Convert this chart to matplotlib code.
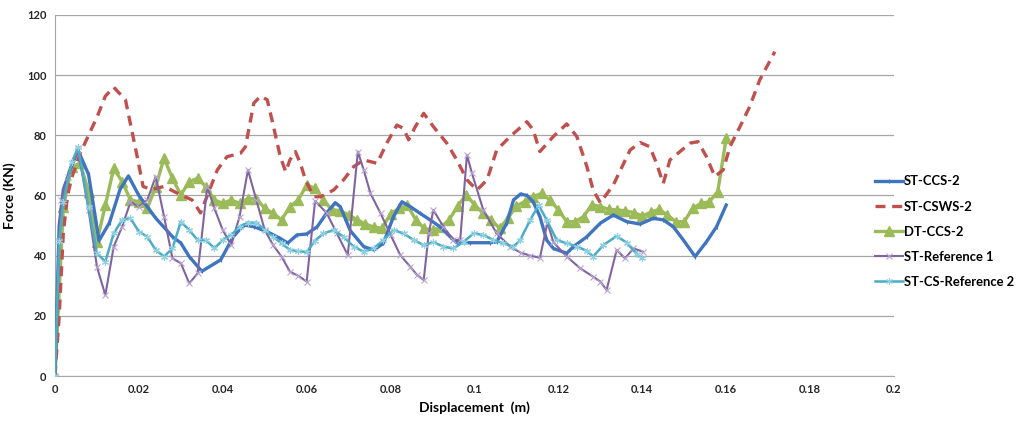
import matplotlib.pyplot as plt

plt.rcParams['font.family'] = ['Lato', 'DejaVu Sans']

# ST-CCS-2
ccs_x = [0, 0.001, 0.002, 0.004, 0.0055, 0.008, 0.0105, 0.013, 0.0155, 0.0175, 0.02, 0.024, 0.028,
         0.030, 0.032, 0.035, 0.0395, 0.0425, 0.045, 0.0475, 0.0505, 0.0535, 0.0555, 0.0577, 0.060,
         0.0625, 0.065, 0.0668, 0.068, 0.0704, 0.0736, 0.076, 0.0783, 0.0807, 0.0827, 0.0847, 0.087,
         0.0894, 0.0918, 0.0942, 0.0958, 0.099, 0.1037, 0.1053, 0.1077, 0.1093, 0.111, 0.1125, 0.114,
         0.1156, 0.1172, 0.1188, 0.122, 0.1236, 0.1268, 0.130, 0.1331, 0.1363, 0.1395, 0.1426, 0.145,
         0.1474, 0.1498, 0.1526, 0.1553, 0.1577, 0.160]
ccs_y = [0, 50, 62, 70, 75, 67, 45, 51, 62, 66.5, 60, 52.5, 46.3,
         44.2, 39.7, 34.8, 38.6, 46.3, 50.2, 49.6, 48, 45.9, 44.2, 46.9, 47.2,
         49.6, 54.6, 57.6, 56.3, 48.3, 43, 41.9, 44.1, 53, 57.9, 56.3, 54.1,
         51.9, 49.6, 46.3, 44.3, 44.3, 44.3, 44.6, 50.8, 58.5, 60.5, 60, 57.9,
         53, 45.2, 42.4, 40.8, 43, 46.3, 50.8, 53.5, 51.3, 50.5, 52.4, 51.9,
         49.6, 45.2, 39.7, 44.6, 49.6, 56.8]

# ST-CSWS-2
csws_x = [0, 0.001, 0.002, 0.003, 0.004, 0.006, 0.008, 0.010, 0.012, 0.014, 0.0168, 0.0196, 0.021,
          0.023, 0.026, 0.030, 0.0327, 0.0347, 0.0387, 0.041, 0.0442, 0.0454, 0.0474, 0.049, 0.0506,
          0.0521, 0.0537, 0.055, 0.056, 0.0573, 0.0585, 0.0597, 0.0617, 0.0633, 0.0664, 0.0688, 0.0712,
          0.0736, 0.0768, 0.0791, 0.0815, 0.0831, 0.0843, 0.0859, 0.0879, 0.0902, 0.0934, 0.0958,
          0.0982, 0.1006, 0.103, 0.1053, 0.1085, 0.1125, 0.114, 0.1156, 0.1188, 0.122, 0.1244, 0.1268,
          0.1283, 0.130, 0.1331, 0.1371, 0.1395, 0.1418, 0.1434, 0.145, 0.1466, 0.149, 0.1514, 0.1533,
          0.1553, 0.1573, 0.1593, 0.1609, 0.1633, 0.1656, 0.168, 0.1716]
csws_y = [0, 20, 48, 60, 66, 74, 80, 86, 93, 96, 91.8, 72.9, 63,
          62, 63, 60.2, 58.5, 54.2, 68.5, 72.9, 74, 76.2, 90.7, 93, 91.8,
          82.9, 72.9, 67.9, 71.8, 74.6, 70.7, 65.2, 59.6, 59.6, 61.8, 65.2, 69.6,
          71.8, 70.7, 77.4, 83.4, 82.3, 78.5, 82.9, 87.3, 82.9, 77.4, 71.8,
          65.2, 61.8, 65.2, 75.1, 79.6, 84.5, 81.8, 74.6, 79.6, 83.8, 79.6, 69.6,
          61.8, 57.6, 63.5, 75.1, 77.6, 76.2, 70.7, 64, 71.8, 74.6, 77.4, 77.9,
          72.9, 66.3, 68.5, 76.2, 82.9, 89.5, 98.4, 107.8]

# DT-CCS-2
dt_x = [0, 0.002, 0.004, 0.006, 0.008, 0.010, 0.012, 0.014, 0.016, 0.018, 0.020, 0.022, 0.024,
        0.026, 0.028, 0.030, 0.032, 0.034, 0.036, 0.038, 0.040, 0.042, 0.044, 0.046, 0.048, 0.050,
        0.052, 0.054, 0.056, 0.058, 0.060, 0.062, 0.064, 0.066, 0.068, 0.070, 0.072, 0.074, 0.076,
        0.078, 0.080, 0.082, 0.084, 0.086, 0.088, 0.090, 0.092, 0.094, 0.096, 0.098, 0.100, 0.102,
        0.104, 0.106, 0.108, 0.110, 0.112, 0.114, 0.116, 0.118, 0.120, 0.122, 0.124, 0.126, 0.128,
        0.130, 0.132, 0.134, 0.136, 0.138, 0.140, 0.142, 0.144, 0.146, 0.148, 0.150, 0.152, 0.154,
        0.156, 0.158, 0.160]
dt_y = [0, 56.3, 69.6, 70.7, 61.3, 44.6, 56.8, 69, 64.6, 58.5, 57.9, 55.7, 62.9,
        72.4, 65.7, 60.2, 64.6, 65.7, 62.9, 58.5, 57.4, 58.5, 57.4, 59, 59, 55.7,
        54.1, 51.9, 56.3, 58.5, 63.5, 62.4, 58.5, 55.2, 55, 53.5, 52, 50.5, 49.5,
        49.1, 54, 55.7, 56.8, 51.9, 49.1, 48.5, 49.4, 52, 56.5, 60.2, 57, 54.1,
        51.9, 49.1, 52.5, 56.5, 58, 59.6, 60.7, 58.5, 55.2, 51.3, 51.3, 53, 57,
        56.3, 55.4, 55.2, 54.9, 54.3, 53.2, 54.4, 55.4, 53.5, 51.3, 51.3, 55.7, 57.4,
        57.9, 61.3, 79]

# ST-Reference 1
ref1_x = [0, 0.001, 0.0015, 0.003, 0.0055, 0.008, 0.010, 0.012, 0.014, 0.016, 0.018, 0.020, 0.022,
          0.024, 0.026, 0.028, 0.030, 0.032, 0.034, 0.0363, 0.038, 0.040, 0.042, 0.044, 0.046, 0.048,
          0.050, 0.052, 0.054, 0.056, 0.058, 0.060, 0.062, 0.0648, 0.0672, 0.0698, 0.0722, 0.0736,
          0.0752, 0.0776, 0.080, 0.0823, 0.0847, 0.0863, 0.0879, 0.0891, 0.0902, 0.0926, 0.095,
          0.0966, 0.0982, 0.0994, 0.1021, 0.1053, 0.1085, 0.111, 0.1133, 0.1156, 0.1174, 0.1188,
          0.122, 0.1252, 0.1283, 0.130, 0.1315, 0.1339, 0.1359, 0.1379, 0.1402]
ref1_y = [0, 45, 58.5, 66, 75, 55.2, 36.3, 26.9, 43, 49.6, 57.9, 56.3, 58.5,
          66.3, 53, 39.1, 37.5, 30.8, 34.1, 62.9, 55.7, 48.5, 43.5, 53, 68.5, 58.5,
          48.5, 43.5, 39.7, 34.7, 33.3, 31.4, 58.2, 54.1, 47.4, 40.2, 74.6, 68.5,
          60.7, 54.1, 46.9, 40.2, 36.3, 33.6, 31.9, 47.4, 55.2, 49.6, 45.2,
          45.2, 73.5, 67.4, 55.2, 47.4, 43, 41, 40, 39.3, 51, 44.5,
          39.7, 35.8, 33, 31.4, 28.6, 41.9, 39.1, 42.4, 41.3]

# ST-CS-Reference 2
ref2_x = [0, 0.001, 0.002, 0.004, 0.0055, 0.008, 0.010, 0.012, 0.014, 0.016, 0.018, 0.020, 0.022,
          0.024, 0.026, 0.028, 0.030, 0.032, 0.034, 0.036, 0.038, 0.040, 0.042, 0.044, 0.046, 0.048,
          0.050, 0.052, 0.054, 0.056, 0.058, 0.060, 0.062, 0.064, 0.0664, 0.0688, 0.0712, 0.0736,
          0.076, 0.0783, 0.0807, 0.0831, 0.0855, 0.0879, 0.0902, 0.0926, 0.095, 0.0974, 0.0998,
          0.1021, 0.1045, 0.1069, 0.1093, 0.1109, 0.1133, 0.1153, 0.1172, 0.1196, 0.122, 0.1244,
          0.1268, 0.1283, 0.1307, 0.1339, 0.1363, 0.1387, 0.140]
ref2_y = [0, 45, 58, 71, 76, 56.3, 40.8, 38, 47.4, 51.9, 52.4, 48, 46.3,
          41.9, 39.7, 42.4, 51.3, 48.5, 45.2, 45.2, 42.4, 45.2, 46.9, 49.6, 51, 51,
          48.5, 46.3, 44.1, 41.9, 41.5, 41.2, 45, 47.4, 48.5, 46.3, 43, 41.3,
          42.4, 45.2, 48.5, 47.4, 45.2, 43.5, 44.5, 43, 42.4, 44.6, 47.4,
          46.9, 45.2, 44.1, 43, 45.2, 51.9, 56.8, 51.9, 45.2, 44.1, 43,
          41.6, 39.7, 43.5, 46.5, 44.3, 40.5, 39.1]

fig = plt.figure(figsize=(10.24, 4.22), dpi=100)
ax = fig.add_axes([0.0537, 0.109, 0.8193, 0.8555])

ax.plot(ccs_x, ccs_y, color='#3F74C0', lw=2.4, marker='|', ms=3, mew=0.8, label='ST-CCS-2', zorder=3)
ax.plot(csws_x, csws_y, color='#C0504D', lw=2.4, dashes=(3, 2), label='ST-CSWS-2', zorder=4)
ax.plot(dt_x, dt_y, color='#9BBB59', lw=2.4, marker='^', ms=6.5, label='DT-CCS-2', zorder=2)
ax.plot(ref1_x, ref1_y, color='#8064A2', lw=1.5, marker='x', ms=4.5, mec='#B9A6D1', mew=0.8,
        label='ST-Reference 1', zorder=5)
ax.plot(ref2_x, ref2_y, color='#4BACC6', lw=1.8, marker=(6, 2, 0), ms=5, mec='#8FD0E2', mew=0.8,
        label='ST-CS-Reference 2', zorder=5)

ax.set_xlim(0, 0.2)
ax.set_ylim(0, 120)
ax.set_xticks([0, 0.02, 0.04, 0.06, 0.08, 0.1, 0.12, 0.14, 0.16, 0.18, 0.2])
ax.set_xticklabels(['0', '0.02', '0.04', '0.06', '0.08', '0.1', '0.12', '0.14', '0.16', '0.18', '0.2'])
ax.set_yticks(range(0, 121, 20))
ax.tick_params(length=0, labelsize=8, colors='#262626', pad=6)
for lab in ax.get_xticklabels() + ax.get_yticklabels():
    lab.set_fontweight('bold')

ax.grid(axis='y', color='#A6A6A6', lw=0.9)
ax.set_axisbelow(True)
for side in ['top', 'right']:
    ax.spines[side].set_visible(False)
ax.spines['left'].set_color('#A6A6A6')
ax.spines['bottom'].set_color('#A6A6A6')

ax.set_xlabel('Displacement  (m)', fontsize=10, fontweight='bold', labelpad=4)
ax.set_ylabel('Force (KN)', fontsize=10, fontweight='bold', labelpad=8)

ax.legend(loc='center left', bbox_to_anchor=(0.978, 0.40), frameon=False,
          prop={'weight': 'bold', 'size': 9.4}, handlelength=2.1, handletextpad=0.05,
          labelspacing=1.0, borderaxespad=0, borderpad=0)

fig.savefig('out.png', dpi=100)
